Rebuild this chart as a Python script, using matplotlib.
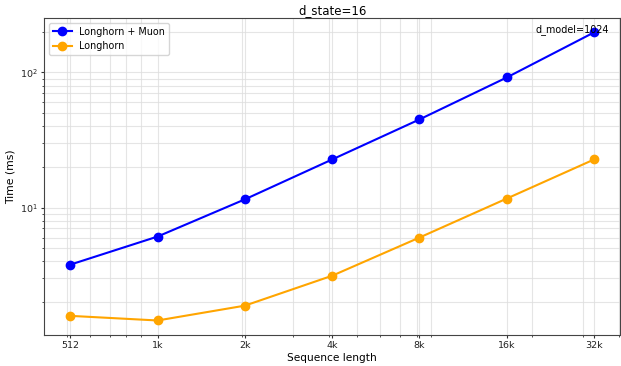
import matplotlib
matplotlib.use('Agg')
import matplotlib.pyplot as plt

seq_len = [512, 1024, 2048, 4096, 8192, 16384, 32768]
seq_labels = ['512', '1k', '2k', '4k', '8k', '16k', '32k']
muon_ms = [3.78, 6.1, 11.5, 22.7, 44.9, 91.8, 198]
base_ms = [1.58, 1.46, 1.88, 3.13, 6.0, 11.66, 22.7]

fig = plt.figure(figsize=(6.21, 3.66), dpi=100)
ax = fig.add_axes([0.0709, 0.085, 0.928, 0.866])

ax.plot(seq_len, muon_ms, '-o', color='blue', lw=1.5, ms=6, label='Longhorn + Muon')
ax.plot(seq_len, base_ms, '-o', color='orange', lw=1.5, ms=6, label='Longhorn')
ax.set_xscale('log')
ax.set_yscale('log')
ax.set_xticks(seq_len, seq_labels)
ax.grid(True, which='both', color='#dddddd', lw=0.8, alpha=0.75)

ax.tick_params(labelsize=6.8, colors='#333333', labelcolor='#222222', length=2.5, pad=2)
ax.tick_params(which='minor', colors='#333333', length=1.6)
for s in ax.spines.values():
    s.set_color('#444444')

ax.set_xlabel('Sequence length', fontsize=7.6, labelpad=2)
ax.set_ylabel('Time (ms)', fontsize=7.8, labelpad=3)
ax.set_title('d_state=16', fontsize=8.5, pad=3)
ax.text(0.98, 0.98, 'd_model=1024', transform=ax.transAxes, ha='right', va='top', fontsize=6.9)
ax.legend(loc='upper left', fontsize=6.9)

fig.savefig('out.png', dpi=100)
